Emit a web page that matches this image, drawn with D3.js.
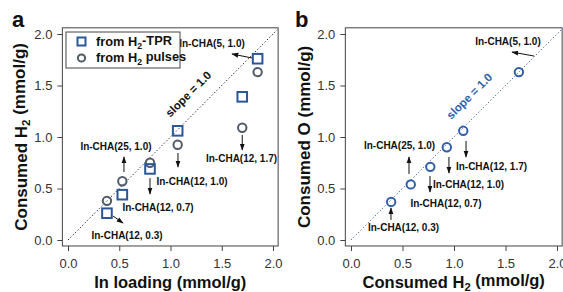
<!DOCTYPE html>
<html>
<head>
<meta charset="utf-8">
<script src="https://cdn.jsdelivr.net/npm/d3@7"></script>
<style>
  body { margin: 0; background: #fff; }
  text { font-family: "Liberation Sans", Arial, sans-serif; }
</style>
</head>
<body>
<svg id="chart"></svg>
<script>
/* values */
const tprLoading  = [0.38, 0.53, 0.80, 1.07, 1.70, 1.85];
const tprH2       = [0.26, 0.44, 0.69, 1.06, 1.39, 1.76];
const pulseLoading = [0.38, 0.53, 0.80, 1.07, 1.70, 1.85];
const pulseH2      = [0.38, 0.57, 0.75, 0.925, 1.09, 1.63];

const consumedH2 = [0.39, 0.58, 0.77, 0.93, 1.09, 1.63];
const consumedO  = [0.37, 0.54, 0.71, 0.90, 1.06, 1.63];

const tickValues = [0.0, 0.5, 1.0, 1.5, 2.0];
const sampleNames = ["In-CHA(12, 0.3)", "In-CHA(25, 1.0)", "In-CHA(12, 0.7)",
                     "In-CHA(12, 1.0)", "In-CHA(12, 1.7)", "In-CHA(5, 1.0)"];

/* annotation placement, in data units: [labelX, labelY, x1, y1, x2, y2] */
const notesA = [
  [0.576, 0.039, 0.439, 0.233, 0.537, 0.165],
  [0.468, 0.903, 0.546, 0.660, 0.546, 0.806],
  [0.878, 0.311, 0.800, 0.600, 0.800, 0.447],
  [1.210, 0.563, 1.073, 0.845, 1.073, 0.709],
  [1.693, 0.786, 1.700, 1.020, 1.700, 0.874],
  [1.405, 1.900, 1.795, 1.767, 1.600, 1.806]
];
const notesB = [
  [0.510, 0.117, 0.388, 0.194, 0.388, 0.311],
  [0.471, 0.913, 0.563, 0.641, 0.563, 0.806],
  [0.922, 0.350, 0.767, 0.621, 0.767, 0.466],
  [1.141, 0.534, 0.951, 0.806, 0.951, 0.650],
  [1.364, 0.709, 1.117, 0.961, 1.117, 0.806],
  [1.524, 1.922, 1.777, 1.786, 1.563, 1.825]
];

const width = 563, height = 292;
const blue = "#2b5797", slate = "#4f5b6b", blueB = "#2f5fab";

const svg = d3.select("#chart").attr("width", width).attr("height", height);

const defs = svg.append("defs");
function marker(id, color){
  defs.append("marker")
    .attr("id", id)
    .attr("viewBox", "0 0 10 10")
    .attr("refX", 9).attr("refY", 5)
    .attr("markerWidth", 7).attr("markerHeight", 7)
    .attr("markerUnits", "userSpaceOnUse")
    .attr("orient", "auto")
    .append("path").attr("d", "M0,1.5L10,5L0,8.5Z").attr("fill", color);
}
marker("arr", "#111");

function panel(opt){
  const g = svg.append("g");
  const x = d3.scaleLinear().domain([0, 2]).range(opt.xr);
  const y = d3.scaleLinear().domain([0, 2]).range([240, 34]);
  const x0 = x(-0.055), x1 = x(2.05), y0 = y(-0.058), y1 = y(2.06);

  g.append("rect")
    .attr("x", x0).attr("y", y1)
    .attr("width", x1 - x0).attr("height", y0 - y1)
    .attr("fill", "none").attr("stroke", "#444").attr("stroke-width", 1);

  const xAxis = g.append("g").attr("transform", "translate(0," + y0 + ")")
    .call(d3.axisBottom(x).tickValues(tickValues).tickFormat(d3.format(".1f")).tickSize(5).tickSizeOuter(0));
  const yAxis = g.append("g").attr("transform", "translate(" + x0 + ",0)")
    .call(d3.axisLeft(y).tickValues(tickValues).tickFormat(d3.format(".1f")).tickSize(5).tickSizeOuter(0));
  [xAxis, yAxis].forEach(a => {
    a.select(".domain").remove();
    a.selectAll(".tick line").attr("stroke", "#444");
    a.selectAll(".tick text").attr("font-size", 13).attr("fill", "#333")
      .attr("font-family", "Liberation Sans, Arial, sans-serif");
  });
  xAxis.selectAll(".tick text").attr("dy", "1.05em");
  yAxis.selectAll(".tick text").attr("x", -10);

  /* slope = 1 line */
  g.append("line")
    .attr("x1", x(0)).attr("y1", y(0)).attr("x2", x(2.04)).attr("y2", y(2.04))
    .attr("stroke", opt.lineColor).attr("stroke-width", 1).attr("stroke-dasharray", "1.2,2.2");
  g.append("text")
    .attr("transform", "translate(" + x(opt.slopePos[0]) + "," + y(opt.slopePos[1]) + ") rotate(-45)")
    .attr("text-anchor", "middle").attr("dominant-baseline", "middle")
    .attr("font-size", 11.5).attr("font-weight", "bold").attr("fill", opt.lineColor)
    .text("slope = 1.0");

  /* annotations */
  opt.notes.forEach((n, i) => {
    g.append("text")
      .attr("x", x(n[0])).attr("y", y(n[1]))
      .attr("text-anchor", "middle").attr("dominant-baseline", "middle")
      .attr("font-size", 10).attr("font-weight", "bold").attr("fill", "#111")
      .text(sampleNames[i]);
    g.append("line")
      .attr("x1", x(n[2])).attr("y1", y(n[3])).attr("x2", x(n[4])).attr("y2", y(n[5]))
      .attr("stroke", "#111").attr("stroke-width", 1)
      .attr("marker-end", "url(#arr)");
  });

  /* axis titles */
  const xt = g.append("text")
    .attr("x", (x0 + x1) / 2).attr("y", 288)
    .attr("text-anchor", "middle").attr("font-size", 16.5).attr("font-weight", "bold").attr("fill", "#111");
  opt.xTitle(xt);
  const yt = g.append("text")
    .attr("transform", "translate(" + opt.yTitleX + "," + (y0 + y1) / 2 + ") rotate(-90)")
    .attr("text-anchor", "middle").attr("font-size", 17).attr("font-weight", "bold").attr("fill", "#111");
  opt.yTitle(yt);

  g.append("text")
    .attr("x", opt.letterX).attr("y", 27)
    .attr("font-size", 22).attr("font-weight", "bold").attr("fill", "#111")
    .text(opt.letter);

  return {g, x, y};
}

function withSub(t, before, sub, after){
  t.append("tspan").text(before);
  t.append("tspan").attr("font-size", "0.68em").attr("dy", "0.3em").text(sub);
  t.append("tspan").attr("dy", "-0.3em").text(after);
}

/* panel a */
const pa = panel({
  xr: [68, 273], lineColor: "#111", slopePos: [1.18, 1.41], notes: notesA,
  letter: "a", letterX: 12, yTitleX: 27,
  xTitle: t => t.text("In loading (mmol/g)"),
  yTitle: t => withSub(t, "Consumed H", "2", " (mmol/g)")
});

pa.g.selectAll(".pulse").data(pulseLoading).enter().append("circle")
  .attr("class", "pulse")
  .attr("cx", d => pa.x(d)).attr("cy", (d, i) => pa.y(pulseH2[i])).attr("r", 4.2)
  .attr("fill", "none").attr("stroke", slate).attr("stroke-width", 2);
pa.g.selectAll(".tpr").data(tprLoading).enter().append("rect")
  .attr("class", "tpr")
  .attr("x", d => pa.x(d) - 4.8).attr("y", (d, i) => pa.y(tprH2[i]) - 4.8)
  .attr("width", 9.6).attr("height", 9.6)
  .attr("fill", "none").attr("stroke", blue).attr("stroke-width", 2);

/* legend */
const lg = pa.g.append("g").attr("transform", "translate(66,32)");
lg.append("rect").attr("width", 114).attr("height", 36)
  .attr("fill", "#fff").attr("stroke", "#444").attr("stroke-width", 1);
lg.append("rect").attr("x", 11.5).attr("y", 5.5).attr("width", 8).attr("height", 8)
  .attr("fill", "none").attr("stroke", blue).attr("stroke-width", 2);
lg.append("circle").attr("cx", 15.5).attr("cy", 26).attr("r", 3.6)
  .attr("fill", "none").attr("stroke", slate).attr("stroke-width", 2);
const l1 = lg.append("text").attr("x", 30).attr("y", 14)
  .attr("font-size", 12.8).attr("font-weight", "bold").attr("fill", "#111");
withSub(l1, "from H", "2", "-TPR");
const l2 = lg.append("text").attr("x", 30).attr("y", 30)
  .attr("font-size", 12.8).attr("font-weight", "bold").attr("fill", "#111");
withSub(l2, "from H", "2", " pulses");

/* panel b */
const pb = panel({
  xr: [351, 557], lineColor: blueB, slopePos: [1.155, 1.39], notes: notesB,
  letter: "b", letterX: 295, yTitleX: 310,
  xTitle: t => withSub(t, "Consumed H", "2", " (mmol/g)"),
  yTitle: t => t.text("Consumed O (mmol/g)")
});

pb.g.selectAll(".oc").data(consumedH2).enter().append("circle")
  .attr("class", "oc")
  .attr("cx", d => pb.x(d)).attr("cy", (d, i) => pb.y(consumedO[i])).attr("r", 4.2)
  .attr("fill", "none").attr("stroke", blueB).attr("stroke-width", 2);
</script>
</body>
</html>
